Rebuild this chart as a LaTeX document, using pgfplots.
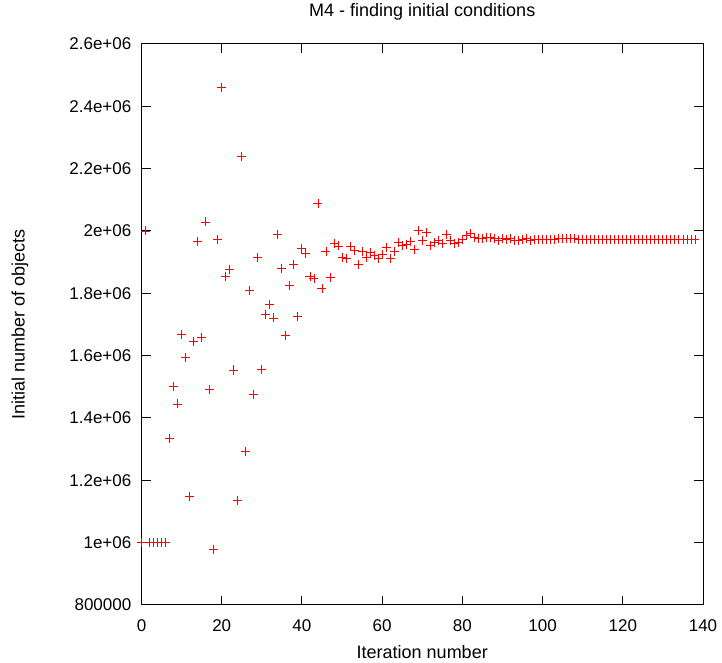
\documentclass[border=0pt]{standalone}
\usepackage{pgfplots}
\pgfplotsset{compat=1.18}
\usepackage{fontspec}
\setmainfont{Liberation Sans}
\begin{document}
\fontsize{17}{20}\selectfont
\begin{tikzpicture}
\begin{axis}[
  name=ax,
  scale only axis,
  width=561.5pt, height=561pt,
  xmin=0, xmax=140, ymin=800000, ymax=2600000,
  xtick={0,20,40,60,80,100,120,140},
  ytick={800000,1000000,1200000,1400000,1600000,1800000,2000000,2200000,2400000,2600000},
  yticklabels={800000,1e+06,1.2e+06,1.4e+06,1.6e+06,1.8e+06,2e+06,2.2e+06,2.4e+06,2.6e+06},
  scaled y ticks=false,
  /pgf/number format/assume math mode=true,
  tick align=inside,
  major tick length=9pt,
  axis line style={line width=1pt},
  every tick/.style={black, line width=1pt},
  xticklabel style={anchor=base, yshift=-27pt, font=\fontsize{17}{20}\selectfont},
  yticklabel style={anchor=east, inner sep=0pt, xshift=-10pt, font=\fontsize{17}{20}\selectfont},
  title={M4 - finding initial conditions},
  title style={at={(axis description cs:0.5,1.0392)}, anchor=base, font=\fontsize{18}{21}\selectfont},
  xlabel={Iteration number},
  xlabel style={at={(axis description cs:0.5,-0.0945)}, anchor=base, font=\fontsize{18}{21}\selectfont},
  ylabel={Initial number of objects},
  ylabel style={at={(axis description cs:-0.2164,0.5)}, anchor=center, font=\fontsize{18}{21}\selectfont},
  clip=false,
]
\addplot[only marks, red, mark=+, mark size=4.5pt, mark options={line width=0.9pt}] coordinates {
(0,1000000) (1,2000000) (2,1000000) (3,1000000) (4,1000000) (5,1000000) (6,1000000)
(7,1333000) (8,1501000) (9,1445000) (10,1669000) (11,1594000) (12,1148000) (13,1644000)
(14,1965000) (15,1659000) (16,2029000) (17,1491000) (18,979000) (19,1973000) (20,2461000)
(21,1854000) (22,1878000) (23,1554000) (24,1136000) (25,2238000) (26,1292000) (27,1809000)
(28,1476000) (29,1916000) (30,1555000) (31,1733000) (32,1765000) (33,1721000) (34,1989000)
(35,1880000) (36,1664000) (37,1824000) (38,1892000) (39,1725000) (40,1945000) (41,1928000)
(42,1854000) (43,1848000) (44,2087000) (45,1815000) (46,1934000) (47,1850000) (48,1961000)
(49,1952000) (50,1915000) (51,1912000) (52,1950000) (53,1937000) (54,1894000) (55,1934000)
(56,1914000) (57,1930000) (58,1921000) (59,1911000) (60,1926000) (61,1948000) (62,1912000)
(63,1934000) (64,1963000) (65,1955000) (66,1956000) (67,1966000) (68,1942000) (69,2003000)
(70,1970000) (71,1995000) (72,1953000) (73,1963000) (74,1970000) (75,1961000) (76,1990000)
(77,1970000) (78,1961000) (79,1963000) (80,1974000) (81,1985000) (82,1993000) (83,1980000)
(84,1977000) (85,1976000) (86,1980000) (87,1978000) (88,1975000) (89,1970000) (90,1976000)
(91,1973000) (92,1975000) (93,1971000) (94,1970000) (95,1973000) (96,1975000) (97,1971000)
(98,1973000) (99,1972000) (100,1972000) (101,1973000) (102,1974000) (103,1974000) (104,1975000)
(105,1975000) (106,1976000) (107,1976000) (108,1975000) (109,1974000) (110,1974000) (111,1974000)
(112,1973000) (113,1974000) (114,1974000) (115,1974000) (116,1974000) (117,1974000) (118,1974000)
(119,1974000) (120,1974000) (121,1974000) (122,1974000) (123,1974000) (124,1974000) (125,1974000)
(126,1974000) (127,1974000) (128,1974000) (129,1974000) (130,1974000) (131,1974000) (132,1974000)
(133,1974000) (134,1974000) (135,1974000) (136,1974000) (137,1974000) (138,1974000)
};
\end{axis}
\pgfresetboundingbox
\path ([xshift=-141.5pt,yshift=-58pt]ax.south west) rectangle ([xshift=19pt,yshift=44pt]ax.north east);
\end{tikzpicture}
\end{document}
